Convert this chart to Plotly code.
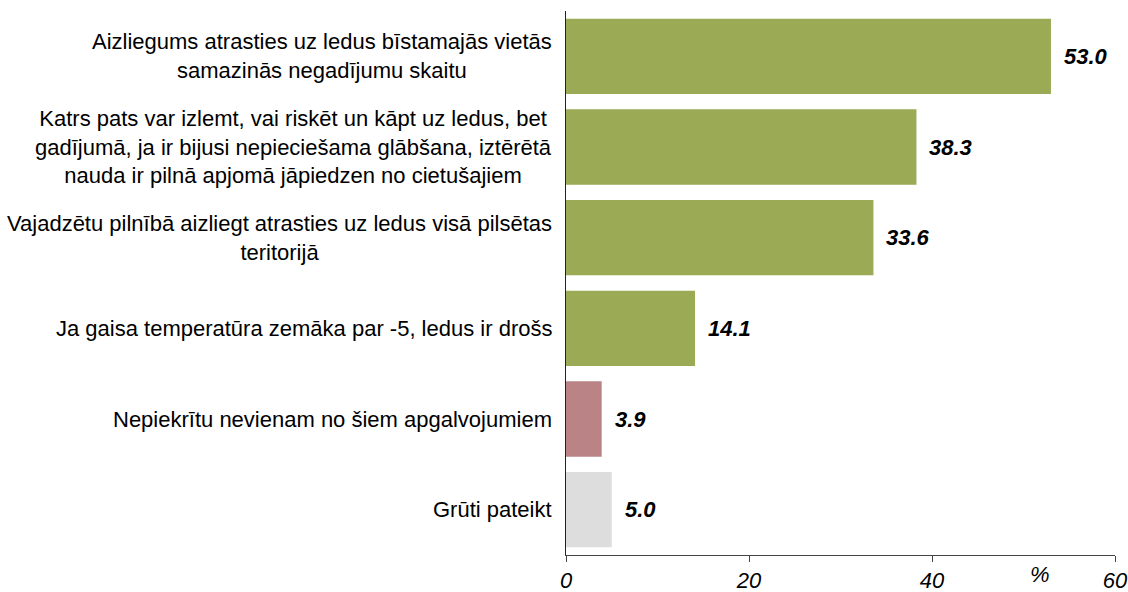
import plotly.graph_objects as go

categories = [
    "Aizliegums atrasties uz ledus bīstamajās vietās<br>samazinās negadījumu skaitu",
    "Katrs pats var izlemt, vai riskēt un kāpt uz ledus, bet<br>gadījumā, ja ir bijusi nepieciešama glābšana, iztērētā<br>nauda ir pilnā apjomā jāpiedzen no cietušajiem",
    "Vajadzētu pilnībā aizliegt atrasties uz ledus visā pilsētas<br>teritorijā",
    "Ja gaisa temperatūra zemāka par -5, ledus ir drošs",
    "Nepiekrītu nevienam no šiem apgalvojumiem",
    "Grūti pateikt",
]
values = [53.0, 38.3, 33.6, 14.1, 3.9, 5.0]
bar_colors = ["#9AAA55", "#9AAA55", "#9AAA55", "#9AAA55", "#BA8385", "#DDDDDD"]
x_ticks = [0, 20, 40, 60]
unit_label = "%"

FONT = "Liberation Sans, Arial, sans-serif"
FS = 22
ids = [f"c{i}" for i in range(len(categories))]

fig = go.Figure()
fig.add_trace(go.Bar(
    x=values, y=ids, orientation="h",
    marker=dict(color=bar_colors, line=dict(width=0)),
    hoverinfo="skip",
))

annotations = []
for cid, lab, v in zip(ids, categories, values):
    annotations.append(dict(
        x=0, xref="paper", y=cid, yref="y", text=lab, showarrow=False,
        xanchor="right", yanchor="middle", align="center", xshift=-12,
        font=dict(family=FONT, size=FS, color="#000000"),
    ))
    annotations.append(dict(
        x=v, xref="x", y=cid, yref="y", text=f"{v:.1f}", showarrow=False,
        xanchor="left", yanchor="middle", xshift=11,
        font=dict(family=FONT, size=FS, color="#000000", weight="bold", style="italic"),
    ))
annotations.append(dict(
    x=51.8, xref="x", y=0, yref="paper", text=unit_label, showarrow=False,
    xanchor="center", yanchor="middle", yshift=-19,
    font=dict(family=FONT, size=FS, color="#000000", style="italic"),
))

fig.update_layout(
    width=1128, height=592,
    margin=dict(l=566, r=13, t=11, b=37, autoexpand=False),
    paper_bgcolor="white", plot_bgcolor="white",
    showlegend=False, bargap=0.17,
    annotations=annotations,
    xaxis=dict(
        range=[0, 60], tickvals=x_ticks, ticktext=[str(t) for t in x_ticks],
        showgrid=False, zeroline=False, showline=True, linecolor="#444444", linewidth=1,
        ticks="outside", ticklen=6, tickcolor="#444444",
        tickfont=dict(family=FONT, size=FS, color="#000000", style="italic"),
        fixedrange=True, automargin=False,
    ),
    yaxis=dict(
        categoryorder="array", categoryarray=ids, autorange="reversed",
        showticklabels=False, showgrid=False, zeroline=False,
        showline=True, linecolor="#222222", linewidth=1, ticks="",
        fixedrange=True, automargin=False,
    ),
)

fig.write_html(
    "out.html",
    config={"displayModeBar": False},
    post_script="document.body.style.margin='0px';document.body.style.overflow='hidden';",
)
